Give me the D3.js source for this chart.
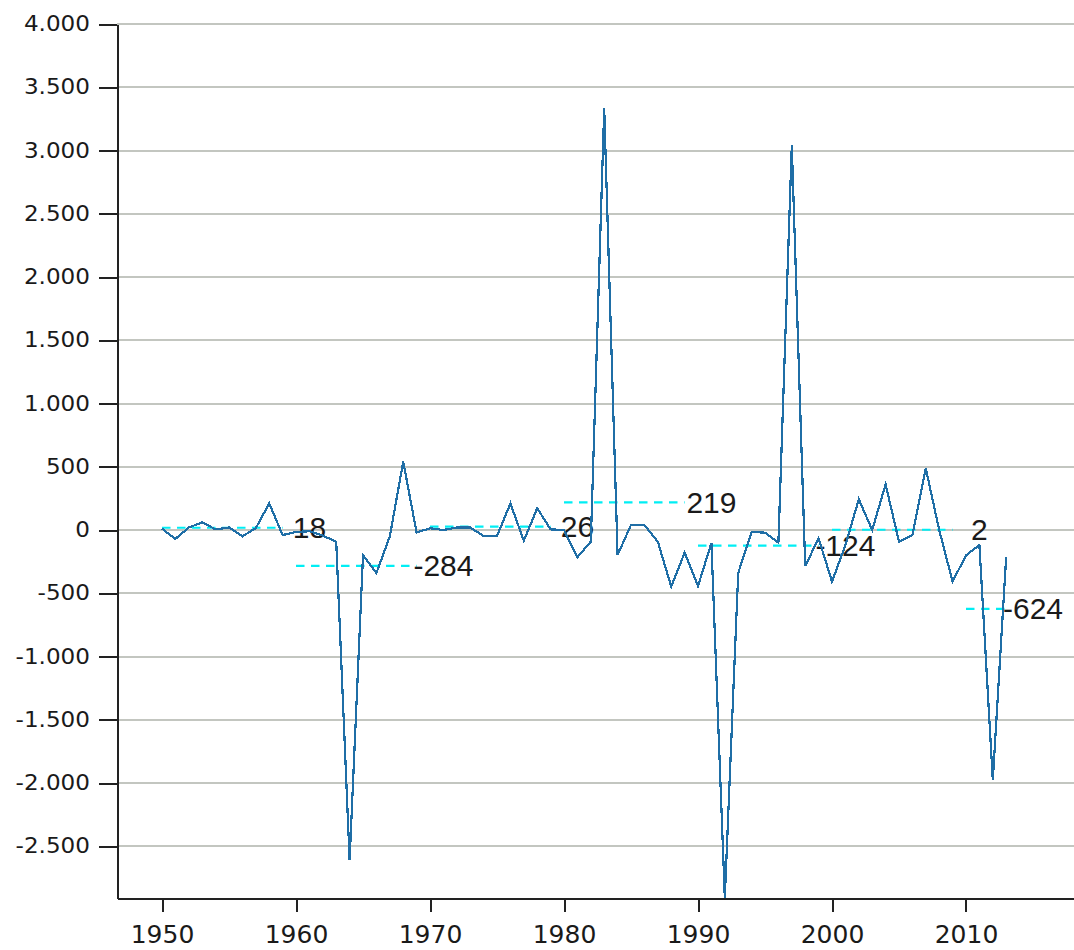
<!DOCTYPE html>
<html lang="de">
<head>
  <meta charset="UTF-8">
  <title>Chart</title>
  <script src="https://d3js.org/d3.v7.min.js"></script>
  <style>
    body { margin: 0; background: #fff; }
  </style>
</head>
<body>
<script>
  // yearly values
  var years = [
    1950, 1951, 1952, 1953, 1954, 1955, 1956, 1957, 1958, 1959,
    1960, 1961, 1962, 1963, 1964, 1965, 1966, 1967, 1968, 1969,
    1970, 1971, 1972, 1973, 1974, 1975, 1976, 1977, 1978, 1979,
    1980, 1981, 1982, 1983, 1984, 1985, 1986, 1987, 1988, 1989,
    1990, 1991, 1992, 1993, 1994, 1995, 1996, 1997, 1998, 1999,
    2000, 2001, 2002, 2003, 2004, 2005, 2006, 2007, 2008, 2009,
    2010, 2011, 2012, 2013
  ];
  var values = [
    10, -70, 20, 60, 5, 20, -50, 15, 210, -40,
    -15, -10, -45, -92, -2610, -198, -340, -50, 540, -20,
    14, 0, 20, 20, -48, -48, 210, -85, 172, 5,
    0, -215, -92, 3333, -198, 40, 40, -92, -448, -179,
    -443, -103, -2909, -340, -15, -21, -100, 3043, -285, -66,
    -408, -120, 243, 0, 361, -92, -40, 487, 0, -408,
    -200, -119, -1976, -211
  ];

  // decade averages (dashed lines + labels)
  var decadeStart = [1950, 1960, 1970, 1980, 1990, 2000, 2010];
  var decadeEnd   = [1959, 1969, 1979, 1989, 1999, 2009, 2013];
  var decadeMean  = [18, -284, 26, 219, -124, 2, -624];

  var xTicks = [1950, 1960, 1970, 1980, 1990, 2000, 2010];
  var yTicks = [-2500, -2000, -1500, -1000, -500, 0, 500, 1000, 1500, 2000, 2500, 3000, 3500, 4000];

  var width = 1074, height = 950;
  var mLeft = 117, mTop = 24, mBottom = 898;

  var de = d3.formatLocale({ decimal: ",", thousands: ".", grouping: [3], currency: ["", " €"], minus: "-" });
  var fmt = de.format(",");

  var svg = d3.select("body").append("svg")
      .attr("width", width)
      .attr("height", height);

  var x = d3.scaleLinear()
      .domain([1946.64, 2018.06])
      .range([mLeft, width]);

  var y = d3.scaleLinear()
      .domain([d3.min(values), 4000])
      .range([mBottom, mTop]);

  // grid
  svg.append("g")
    .selectAll("line")
    .data(yTicks)
    .enter().append("line")
      .attr("x1", mLeft)
      .attr("x2", width)
      .attr("y1", function(d) { return y(d); })
      .attr("y2", function(d) { return y(d); })
      .attr("stroke", "#c3c6c0")
      .attr("stroke-width", 2)
      .attr("shape-rendering", "crispEdges");

  // y axis
  var sx = 1.1;
  var yAxis = svg.append("g")
      .attr("transform", "translate(" + mLeft + ",0)")
      .call(d3.axisLeft(y).tickValues(yTicks).tickFormat(fmt).tickSize(18).tickSizeOuter(0));
  yAxis.selectAll("text")
      .attr("font-family", "DejaVu Sans")
      .attr("font-size", 21)
      .attr("fill", "#1a1a1a")
      .attr("x", -27 / sx)
      .attr("transform", "scale(" + sx + ",1)");

  // x axis
  var xAxis = svg.append("g")
      .attr("transform", "translate(0," + mBottom + ")")
      .call(d3.axisBottom(x).tickValues(xTicks).tickFormat(d3.format("d")).tickSize(14).tickSizeOuter(0));
  xAxis.selectAll("text")
      .attr("font-family", "DejaVu Sans")
      .attr("font-size", 25)
      .attr("fill", "#1a1a1a")
      .attr("y", 45)
      .attr("dy", 0);

  svg.selectAll(".domain, .tick line")
      .attr("stroke", "#222")
      .attr("stroke-width", 2)
      .attr("shape-rendering", "crispEdges");

  // decade means
  var dec = svg.append("g");
  dec.selectAll("line")
    .data(decadeMean)
    .enter().append("line")
      .attr("x1", function(d, i) { return x(decadeStart[i]); })
      .attr("x2", function(d, i) { return x(decadeEnd[i]); })
      .attr("y1", function(d) { return y(d); })
      .attr("y2", function(d) { return y(d); })
      .attr("stroke", "#00eef4")
      .attr("stroke-width", 2.2)
      .attr("stroke-dasharray", "8.5,6.5");

  // series line
  var line = d3.line()
      .x(function(d, i) { return x(years[i]); })
      .y(function(d) { return y(d); });

  svg.append("path")
      .datum(values)
      .attr("d", line)
      .attr("fill", "none")
      .attr("stroke", "#1f6ea6")
      .attr("stroke-width", 2.2)
      .attr("shape-rendering", "crispEdges");

  dec.selectAll("text")
    .data(decadeMean)
    .enter().append("text")
      .attr("x", function(d, i) { return x(decadeEnd[i] + 2); })
      .attr("y", function(d) { return y(d); })
      .attr("dy", "0.35em")
      .attr("text-anchor", "middle")
      .attr("font-family", "Liberation Sans")
      .attr("font-size", 30)
      .attr("fill", "#1a1a1a")
      .text(function(d) { return d; });
</script>
</body>
</html>
